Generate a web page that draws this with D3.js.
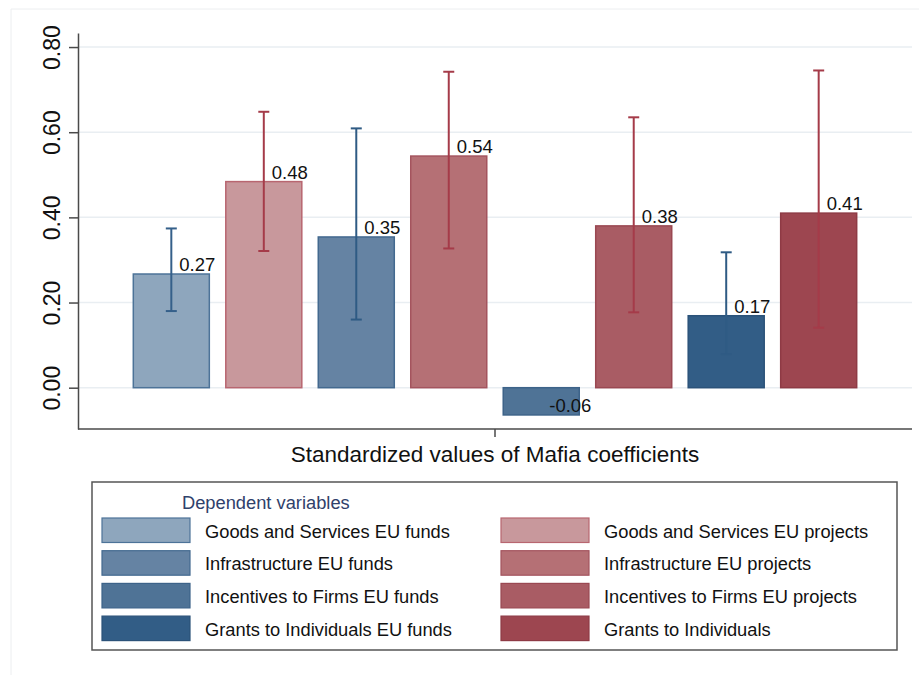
<!DOCTYPE html>
<html>
<head>
<meta charset="utf-8">
<script src="https://cdn.jsdelivr.net/npm/d3@7"></script>
<style>
  body { margin: 0; background: #fff; }
  svg { display: block; font-family: "Liberation Sans", Arial, Helvetica, sans-serif; }
</style>
</head>
<body>
<svg id="chart" width="919" height="675"></svg>
<script>
// Mafia coefficients (standardized) by dependent variable, with 95% CIs
const categories = [
  "Goods and Services EU funds",
  "Goods and Services EU projects",
  "Infrastructure EU funds",
  "Infrastructure EU projects",
  "Incentives to Firms EU funds",
  "Incentives to Firms EU projects",
  "Grants to Individuals EU funds",
  "Grants to Individuals"
];
const estimates = [0.267, 0.484, 0.354, 0.544, -0.064, 0.380, 0.169, 0.410];
const ciLow  = [0.180, 0.321, 0.160, 0.327, null, 0.177, 0.079, 0.141];
const ciHigh = [0.374, 0.648, 0.609, 0.742, null, 0.635, 0.318, 0.745];
const yTicks = [0, 0.2, 0.4, 0.6, 0.8];
const fillColors   = ["#8ea6bd", "#c8989c", "#6583a3", "#b57075", "#4f7396", "#a95c64", "#325d86", "#9d4650"];
const strokeColors = ["#4d7398", "#b86670", "#43698f", "#a4545e", "#3d6389", "#9a4852", "#2b5279", "#8e3a45"];
const ciColors     = ["#35608a", "#a53b49", "#2f5b84", "#a53b49", "#2f5b84", "#a53b49", "#2f5b84", "#a53b49"];
const axisTitle = "Standardized values of Mafia coefficients";
const legendTitle = "Dependent variables";

// two-decimal format with a plain hyphen for negatives
const fmt = d3.formatLocale({ decimal: ".", thousands: ",", grouping: [3], currency: ["", ""], minus: "-" }).format(".2f");

const svg = d3.select("#chart");

// faint frame around the figure
svg.append("path")
  .attr("d", "M11,675 V9 H919")
  .attr("fill", "none").attr("stroke", "#eceef0").attr("stroke-width", 1);

const plot = { left: 78, right: 912, top: 33, bottom: 429 };

const x = d3.scaleBand()
  .domain(categories)
  .range([plot.left, plot.right])
  .paddingInner(0.178)
  .paddingOuter(0.598);

const y = d3.scaleLinear()
  .domain([-0.097, 0.833])
  .range([plot.bottom, plot.top]);

// horizontal grid
svg.append("g").selectAll("line")
  .data(yTicks).join("line")
  .attr("x1", plot.left).attr("x2", plot.right)
  .attr("y1", d => y(d)).attr("y2", d => y(d))
  .attr("stroke", "#e9eef2").attr("stroke-width", 1.5);

// y axis
const yAxis = svg.append("g")
  .attr("transform", `translate(${plot.left},0)`)
  .call(d3.axisLeft(y).tickValues(yTicks).tickFormat(fmt).tickSize(9).tickSizeOuter(0));
yAxis.select(".domain").attr("stroke", "#4a4a4a").attr("stroke-width", 1.5);
yAxis.selectAll(".tick line").attr("stroke", "#4a4a4a").attr("stroke-width", 1.5);
yAxis.selectAll(".tick text")
  .attr("x", null).attr("dy", null)
  .attr("transform", "translate(-18,0) rotate(-90)")
  .attr("text-anchor", "middle")
  .attr("font-size", 23)
  .attr("fill", "#111")
  .attr("font-family", "'Liberation Sans', Arial, sans-serif");

// x axis: single centered tick
const xAxisG = svg.append("g");
xAxisG.append("line")
  .attr("x1", plot.left).attr("x2", plot.right)
  .attr("y1", plot.bottom).attr("y2", plot.bottom)
  .attr("stroke", "#4a4a4a").attr("stroke-width", 1.5);
const xMid = (x(categories[0]) + x(categories[categories.length - 1]) + x.bandwidth()) / 2;
xAxisG.append("line")
  .attr("x1", xMid).attr("x2", xMid)
  .attr("y1", plot.bottom).attr("y2", plot.bottom + 8)
  .attr("stroke", "#4a4a4a").attr("stroke-width", 1.5);
xAxisG.append("text")
  .attr("x", xMid).attr("y", 462)
  .attr("text-anchor", "middle")
  .attr("font-size", 22.5)
  .attr("fill", "#111")
  .text(axisTitle);

// bars
svg.append("g").selectAll("rect")
  .data(categories).join("rect")
  .attr("x", d => x(d))
  .attr("width", x.bandwidth())
  .attr("y", (d, i) => y(Math.max(0, estimates[i])))
  .attr("height", (d, i) => Math.abs(y(estimates[i]) - y(0)))
  .attr("fill", (d, i) => fillColors[i])
  .attr("stroke", (d, i) => strokeColors[i])
  .attr("stroke-width", 1.5);

// confidence intervals
const ciData = categories.map((c, i) => ({ c, i, lo: ciLow[i], hi: ciHigh[i] })).filter(d => d.lo != null);
const ci = svg.append("g").selectAll("g").data(ciData).join("g")
  .attr("stroke", d => ciColors[d.i]).attr("stroke-width", 2);
ci.append("line")
  .attr("x1", d => x(d.c) + x.bandwidth() / 2).attr("x2", d => x(d.c) + x.bandwidth() / 2)
  .attr("y1", d => y(d.lo)).attr("y2", d => y(d.hi));
ci.append("line")
  .attr("x1", d => x(d.c) + x.bandwidth() / 2 - 5.5).attr("x2", d => x(d.c) + x.bandwidth() / 2 + 5.5)
  .attr("y1", d => y(d.hi)).attr("y2", d => y(d.hi));
ci.append("line")
  .attr("x1", d => x(d.c) + x.bandwidth() / 2 - 5.5).attr("x2", d => x(d.c) + x.bandwidth() / 2 + 5.5)
  .attr("y1", d => y(d.lo)).attr("y2", d => y(d.lo));

// value labels
svg.append("g").selectAll("text")
  .data(categories).join("text")
  .attr("x", d => x(d) + x.bandwidth() / 2 + 8)
  .attr("y", (d, i) => y(estimates[i]) - 3)
  .attr("font-size", 18.5)
  .attr("fill", "#111")
  .text((d, i) => fmt(estimates[i]));

// legend
const legend = svg.append("g");
legend.append("rect")
  .attr("x", 92).attr("y", 482).attr("width", 805).attr("height", 168)
  .attr("fill", "#fff").attr("stroke", "#555").attr("stroke-width", 1.5);
legend.append("text")
  .attr("x", 182).attr("y", 509)
  .attr("font-size", 18.3)
  .attr("fill", "#2f416b")
  .text(legendTitle);

const colX = [102, 501];
const items = legend.selectAll("g.item")
  .data(categories).join("g").attr("class", "item")
  .attr("transform", (d, i) => `translate(${colX[i % 2]},${518 + Math.floor(i / 2) * 32.7})`);
items.append("rect")
  .attr("width", 88).attr("height", 24.5)
  .attr("fill", (d, i) => fillColors[i])
  .attr("stroke", (d, i) => strokeColors[i])
  .attr("stroke-width", 1.2);
items.append("text")
  .attr("x", 103).attr("y", 19.5)
  .attr("font-size", 18.3)
  .attr("fill", "#111")
  .text(d => d);
</script>
</body>
</html>
